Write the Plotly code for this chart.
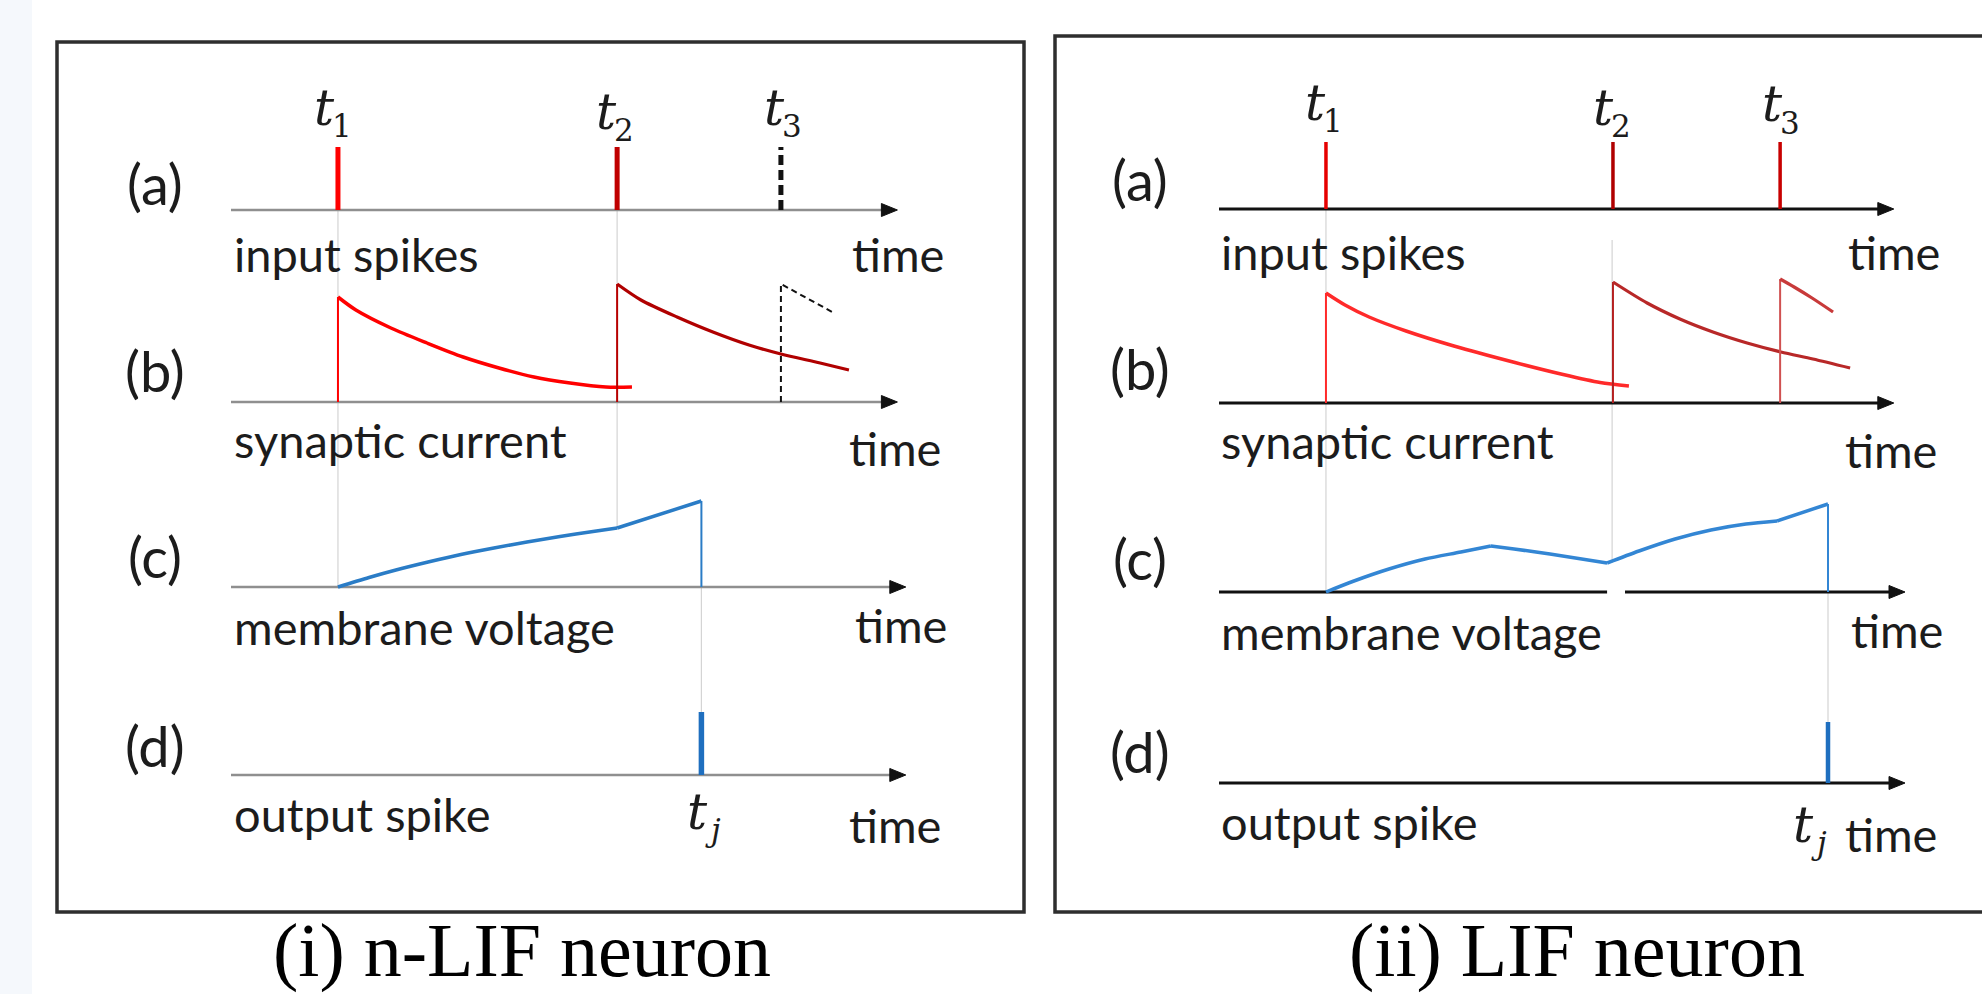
import plotly.graph_objects as go

W, H = 1982, 994

# ---------------- data (time units, relative amplitudes) ----------------
# (i) n-LIF neuron
L_in_times = [3.82, 13.79]          # real input spikes t1, t2
L_in_dashed = 19.64                  # t3 (dashed, ignored)
L_in_height = 0.63
L_cur1_t = [3.82, 4.46, 5.71, 7.0, 8.29, 9.57, 10.82, 12.11, 13.39, 14.32]
L_cur1_v = [1.05, 0.92, 0.74, 0.59, 0.45, 0.34, 0.25, 0.19, 0.15, 0.15]
L_cur2_t = [13.79, 14.64, 15.93, 17.21, 18.5, 19.64, 21.04, 22.07]
L_cur2_v = [1.18, 1.02, 0.85, 0.70, 0.57, 0.48, 0.39, 0.32]
L_cur3_t = [19.64, 21.54]
L_cur3_v = [1.18, 0.89]
L_vm_t = [3.82, 4.93, 5.89, 7.04, 8.21, 9.39, 10.57, 11.75, 12.93, 13.79, 16.8]
L_vm_v = [0.0, 0.095, 0.17, 0.25, 0.325, 0.39, 0.45, 0.505, 0.555, 0.59, 0.86]
L_out_time = 16.8
L_out_height = 0.63

# (ii) LIF neuron
R_in_times = [3.82, 14.07, 20.04]
R_in_height = 0.67
R_cur1_t = [3.82, 4.50, 5.36, 6.68, 8.39, 10.57, 12.29, 13.61, 14.64]
R_cur1_v = [1.10, 0.98, 0.86, 0.72, 0.57, 0.405, 0.285, 0.205, 0.17]
R_cur2_t = [14.07, 15.29, 16.46, 17.64, 18.86, 20.07, 21.21, 22.54]
R_cur2_v = [1.21, 1.00, 0.84, 0.71, 0.60, 0.51, 0.44, 0.35]
R_cur3_t = [20.04, 20.54, 21.18, 21.93]
R_cur3_v = [1.24, 1.16, 1.05, 0.91]
R_vm_t = [3.82, 4.82, 6.07, 7.36, 8.64, 9.71, 10.54, 11.82, 13.86, 15.0, 16.29, 17.57, 18.82, 19.93, 21.75]
R_vm_v = [0.0, 0.11, 0.23, 0.33, 0.40, 0.46, 0.43, 0.38, 0.29, 0.41, 0.53, 0.62, 0.68, 0.71, 0.88]
R_out_time = 21.75
R_out_height = 0.61

row_labels = ["(a)", "(b)", "(c)", "(d)"]
row_names = ["input spikes", "synaptic current", "membrane voltage", "output spike"]
axis_word = "time"
spike_subs = ["1", "2", "3"]
out_sub = "j"
titles = ["(i) n-LIF neuron", "(ii) LIF neuron"]

# ---------------- layout geometry (pixels) ----------------
PX_PER_T = 28.0
L_X0, R_X0 = 231, 1219
L_BASE = [210, 402, 587, 775]
R_BASE = [209, 403, 592, 783]
AMP = 100.0  # px per amplitude unit
L_END = [23.8, 23.8, 24.1, 24.1]
R_END = [24.1, 24.1, 24.5, 24.5]
R_GAP = (13.86, 14.5)
L_VM_KNOTS = [0, 9, 10]              # smooth pieces of the voltage trace
R_VM_KNOTS = [0, 5, 8, 13, 14]

SANS = "Lato"
SERIF = "Liberation Serif"
MATH = "DejaVu Serif"
TXT = "#1c1c1c"

fig = go.Figure()


def yv(base, v):
    return [base - a * AMP for a in v]


def add_line(xs, ys, xa, color, width, dash="solid", shape="linear"):
    fig.add_trace(go.Scatter(x=xs, y=ys, mode="lines", xaxis=xa, yaxis="y",
                             line=dict(color=color, width=width, dash=dash, shape=shape,
                                       smoothing=0.8),
                             hoverinfo="skip", showlegend=False))


def add_arrow(xa, x_end, base, color):
    L = 16 / PX_PER_T
    hw = 6.5
    path = "M %.4f,%.2f L %.4f,%.2f L %.4f,%.2f Z" % (
        x_end, base, x_end - L, base - hw, x_end - L, base + hw)
    fig.add_shape(type="path", xref=xa, yref="y", path=path, fillcolor=color,
                  line=dict(color=color, width=1))


def add_pieces(ts, vs, knots, base, xa, color, width):
    for a, b in zip(knots[:-1], knots[1:]):
        shape = "spline" if b - a > 1 else "linear"
        add_line(ts[a:b + 1], yv(base, vs[a:b + 1]), xa, color, width, shape=shape)


K = {SANS: 0.39, SERIF: 0.34, MATH: 0.35}


def add_text(xpx, baseline, text, size, family, xanchor="left", color=TXT, style="normal"):
    fig.add_annotation(x=xpx / W, y=1 - (baseline - K[family] * size) / H, xref="paper",
                       yref="paper", text=text, showarrow=False, xanchor=xanchor,
                       yanchor="middle",
                       font=dict(family=family, size=size, color=color, style=style))


def add_tlabel(xl, bl, sub, sub_italic=False):
    add_text(xl - 4, bl + 2, "t", 50, MATH, "left", style="italic")
    add_text(xl + 14, bl + 14, sub, 31, MATH, "left",
             style="italic" if sub_italic else "normal")


# frames & background strip
fig.add_shape(type="rect", xref="paper", yref="paper", x0=0, x1=32 / W, y0=0, y1=1,
              line=dict(width=0), fillcolor="#f5f8fc", layer="below")
fig.add_shape(type="rect", xref="paper", yref="paper", x0=57 / W, x1=1024 / W,
              y0=1 - 912 / H, y1=1 - 42 / H, line=dict(color="#2e2e2e", width=3.5))
fig.add_shape(type="rect", xref="paper", yref="paper", x0=1055 / W, x1=1995 / W,
              y0=1 - 912 / H, y1=1 - 36 / H, line=dict(color="#2e2e2e", width=3.5))

GUIDE = "#d4d4d4"

# ================= LEFT PANEL =================
xa = "x"
add_line([L_in_times[0], L_in_times[0]], [L_BASE[0], L_BASE[2]], xa, GUIDE, 1.2)
add_line([L_in_times[1], L_in_times[1]], [L_BASE[0], L_BASE[2] - L_vm_v[9] * AMP], xa, GUIDE, 1.2)
add_line([L_out_time, L_out_time], [L_BASE[2], L_BASE[3] - L_out_height * AMP], xa, GUIDE, 1.2)
for b, e in zip(L_BASE, L_END):
    add_line([0, e - 0.4], [b, b], xa, "#8f8f8f", 2.6)
    add_arrow(xa, e, b, "#111111")
for t, c in zip(L_in_times, ["#ff0000", "#c00000"]):
    add_line([t, t], [L_BASE[0], L_BASE[0] - L_in_height * AMP], xa, c, 5)
add_line([L_in_dashed, L_in_dashed], [L_BASE[0], L_BASE[0] - L_in_height * AMP], xa,
         "#111111", 5, dash="10px,5px")
add_line([L_cur1_t[0], L_cur1_t[0]], [L_BASE[1], L_BASE[1] - L_cur1_v[0] * AMP], xa, "#ff0000", 2)
add_line(L_cur1_t, yv(L_BASE[1], L_cur1_v), xa, "#ff0000", 3.5, shape="spline")
add_line([L_cur2_t[0], L_cur2_t[0]], [L_BASE[1], L_BASE[1] - L_cur2_v[0] * AMP], xa, "#b80000", 2)
add_line(L_cur2_t, yv(L_BASE[1], L_cur2_v), xa, "#b00000", 3.2, shape="spline")
add_line([L_cur3_t[0], L_cur3_t[0]] + L_cur3_t[1:],
         [L_BASE[1]] + yv(L_BASE[1], L_cur3_v), xa, "#111111", 2, dash="6px,4px")
add_pieces(L_vm_t, L_vm_v, L_VM_KNOTS, L_BASE[2], xa, "#2a7cc6", 3.5)
add_line([L_out_time, L_out_time], [L_BASE[2] - L_vm_v[-1] * AMP, L_BASE[2]], xa, "#2a7cc6", 2)
add_line([L_out_time, L_out_time], [L_BASE[3], L_BASE[3] - L_out_height * AMP], xa, "#1f6fbf", 5.5)

# ================= RIGHT PANEL =================
xa = "x2"
add_line([R_in_times[0], R_in_times[0]], [R_BASE[0], R_BASE[2]], xa, GUIDE, 1.2)
add_line([R_in_times[1] - 0.03, R_in_times[1] - 0.03], [R_BASE[0] + 31, R_BASE[2] - R_vm_v[8] * AMP],
         xa, GUIDE, 1.2)
add_line([R_out_time, R_out_time], [R_BASE[2], R_BASE[3] - R_out_height * AMP], xa, GUIDE, 1.2)
for i, (b, e) in enumerate(zip(R_BASE, R_END)):
    if i == 2:
        add_line([0, R_GAP[0]], [b, b], xa, "#111111", 2.8)
        add_line([R_GAP[1], e - 0.4], [b, b], xa, "#111111", 2.8)
    else:
        add_line([0, e - 0.4], [b, b], xa, "#111111", 2.8)
    add_arrow(xa, e, b, "#111111")
for t, c in zip(R_in_times, ["#e60000", "#b00000", "#c80000"]):
    add_line([t, t], [R_BASE[0], R_BASE[0] - R_in_height * AMP], xa, c, 3.5)
add_line([R_cur1_t[0], R_cur1_t[0]], [R_BASE[1], R_BASE[1] - R_cur1_v[0] * AMP], xa, "#ff2a2a", 2)
add_line(R_cur1_t, yv(R_BASE[1], R_cur1_v), xa, "#ff2a2a", 3.5, shape="spline")
add_line([R_cur2_t[0], R_cur2_t[0]], [R_BASE[1], R_BASE[1] - R_cur2_v[0] * AMP], xa, "#b52020", 2)
add_line(R_cur2_t, yv(R_BASE[1], R_cur2_v), xa, "#b82828", 3.2, shape="spline")
add_line([R_cur3_t[0], R_cur3_t[0]], [R_BASE[1], R_BASE[1] - R_cur3_v[0] * AMP], xa, "#d05050", 2)
add_line(R_cur3_t, yv(R_BASE[1], R_cur3_v), xa, "#c83a3a", 3.2, shape="spline")
add_pieces(R_vm_t, R_vm_v, R_VM_KNOTS, R_BASE[2], xa, "#3386d4", 3.5)
add_line([R_out_time, R_out_time], [R_BASE[2] - R_vm_v[-1] * AMP, R_BASE[2]], xa, "#3386d4", 2)
add_line([R_out_time, R_out_time], [R_BASE[3], R_BASE[3] - R_out_height * AMP], xa, "#1f6fbf", 4.5)

# ================= TEXT =================
for lab, bl in zip(row_labels, [205, 392, 578, 767]):
    add_text(155, bl, lab, 56, SANS, "center")
for lab, bl in zip(row_labels, [201, 390, 580, 773]):
    add_text(1140, bl, lab, 56, SANS, "center")
for nm, bl in zip(row_names, [272, 458, 645, 832]):
    add_text(232, bl, nm, 47, SANS, "left")
for nm, bl in zip(row_names, [270, 459, 650, 840]):
    add_text(1219, bl, nm, 47, SANS, "left")
for xr, bl in zip([946, 943, 949, 943], [272, 466, 643, 843]):
    add_text(xr, bl, axis_word, 47, SANS, "right")
for xr, bl in zip([1942, 1939, 1945, 1939], [270, 468, 648, 852]):
    add_text(xr, bl, axis_word, 47, SANS, "right")
for s, xl, bl in zip(spike_subs, [316, 598, 766], [123, 127, 123]):
    add_tlabel(xl, bl, s)
for s, xl, bl in zip(spike_subs, [1307, 1595, 1764], [118, 123, 120]):
    add_tlabel(xl, bl, s)
add_tlabel(689, 827, out_sub, True)
add_tlabel(1795, 840, out_sub, True)
add_text(522, 976, titles[0], 76, SERIF, "center", "#000000")
add_text(1577, 976, titles[1], 76, SERIF, "center", "#000000")

fig.update_layout(
    width=W, height=H, margin=dict(l=0, r=0, t=0, b=0),
    paper_bgcolor="white", plot_bgcolor="white", showlegend=False,
    xaxis=dict(domain=[0, 1], range=[-L_X0 / PX_PER_T, (W - L_X0) / PX_PER_T], visible=False,
               fixedrange=True),
    xaxis2=dict(domain=[0, 1], range=[-R_X0 / PX_PER_T, (W - R_X0) / PX_PER_T], visible=False,
                overlaying="x", fixedrange=True),
    yaxis=dict(domain=[0, 1], range=[H, 0], visible=False, fixedrange=True),
)

fig.write_html("out.html")
